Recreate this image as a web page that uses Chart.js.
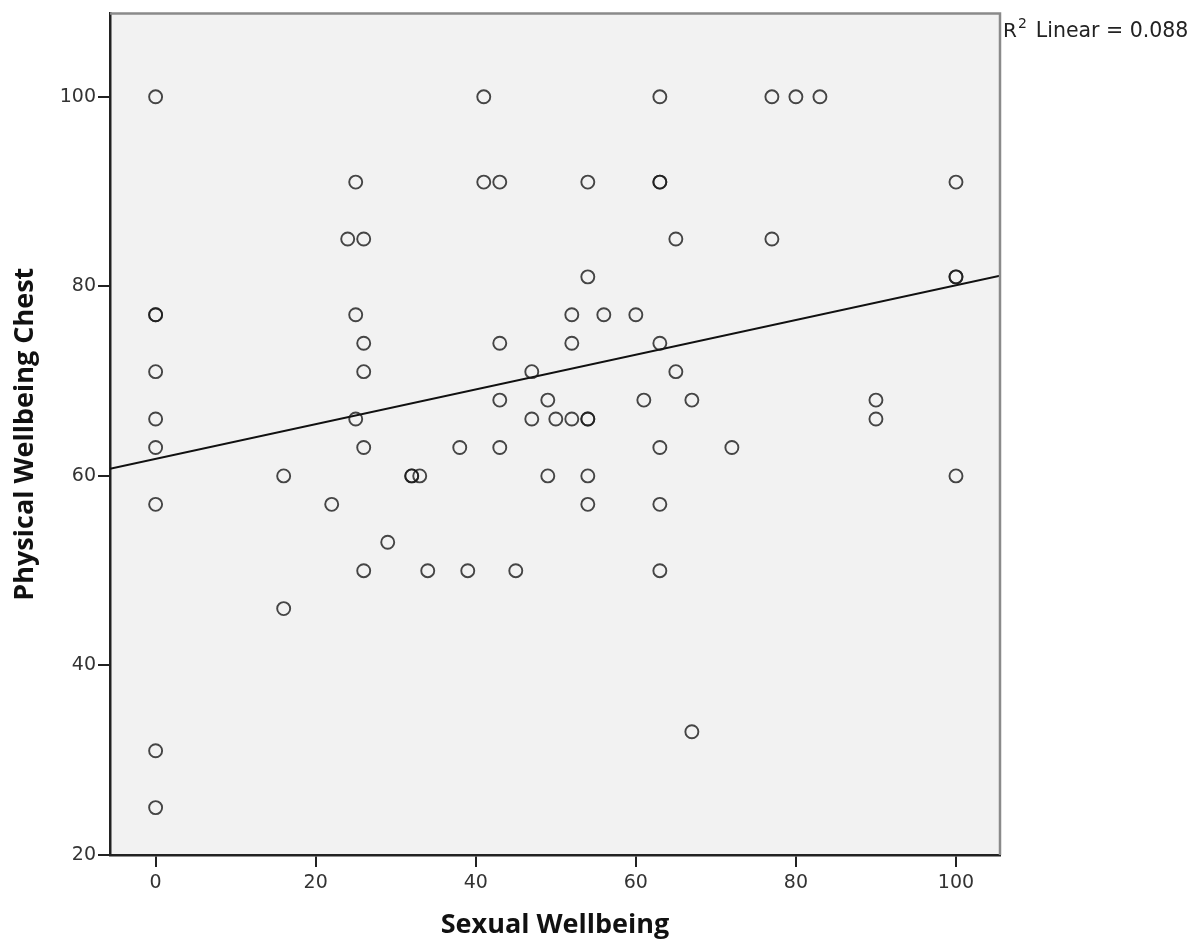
<!DOCTYPE html>
<html>
<head>
<meta charset="utf-8">
<script src="https://cdn.jsdelivr.net/npm/chart.js@4"></script>
<style>
  html, body { margin: 0; padding: 0; background: #fff; }
  #wrap { width: 1203px; height: 947px; }
</style>
</head>
<body>
<div id="wrap"><canvas id="scatter"></canvas></div>
<script>
// values (duplicates are the darker circles)
const sexualWellbeing = [
  0, 0, 0, 0, 0, 0, 0, 0, 0,
  16, 16, 22, 24, 25, 25, 25,
  26, 26, 26, 26, 26, 29, 32, 32, 33, 34, 38, 39,
  41, 41, 43, 43, 43, 43, 45, 47, 47, 49, 49, 50,
  52, 52, 52, 54, 54, 54, 54, 54, 54, 56, 60, 61,
  63, 63, 63, 63, 63, 63, 63, 65, 65, 67, 67, 72,
  77, 77, 80, 83, 90, 90, 100, 100, 100, 100
];
const physicalChest = [
  100, 77, 77, 71, 66, 63, 57, 31, 25,
  60, 46, 57, 85, 91, 77, 66,
  85, 74, 71, 63, 50, 53, 60, 60, 60, 50, 63, 50,
  100, 91, 91, 74, 68, 63, 50, 71, 66, 68, 60, 66,
  77, 74, 66, 91, 81, 66, 66, 60, 57, 77, 77, 68,
  100, 91, 91, 74, 63, 57, 50, 85, 71, 68, 33, 63,
  100, 85, 100, 100, 68, 66, 91, 81, 81, 60
];
const xTicks = [0, 20, 40, 60, 80, 100];
const yTicks = [20, 40, 60, 80, 100];
const xMin = -5.7, xMax = 105.5;
const yMin = 20, yMax = 108.8;
const r2Label = '0.088';

const points = sexualWellbeing.map((x, i) => ({ x: x, y: physicalChest[i] }));

// least squares fit line
function fitLine(xs, ys) {
  const n = xs.length;
  const mx = xs.reduce((a, b) => a + b, 0) / n;
  const my = ys.reduce((a, b) => a + b, 0) / n;
  let sxy = 0, sxx = 0;
  for (let i = 0; i < n; i++) {
    sxy += (xs[i] - mx) * (ys[i] - my);
    sxx += (xs[i] - mx) * (xs[i] - mx);
  }
  const b = sxy / sxx;
  return { a: my - b * mx, b: b };
}
const fit = fitLine(sexualWellbeing, physicalChest);
const fitPoints = [xMin, xMax].map(x => ({ x: x, y: fit.a + fit.b * x }));

const framePlugin = {
  id: 'frame',
  beforeDraw(chart) {
    const { ctx, chartArea: a } = chart;
    ctx.save();
    ctx.fillStyle = '#f2f2f2';
    ctx.fillRect(a.left, a.top, a.right - a.left, a.bottom - a.top);
    ctx.restore();
  },
  afterDraw(chart) {
    const { ctx, chartArea: a } = chart;
    ctx.save();
    ctx.strokeStyle = '#8a8a8a';
    ctx.lineWidth = 2.5;
    ctx.beginPath();
    ctx.moveTo(a.left, a.top);
    ctx.lineTo(a.right, a.top);
    ctx.lineTo(a.right, a.bottom);
    ctx.stroke();
    // R² label
    ctx.fillStyle = '#222';
    ctx.textBaseline = 'alphabetic';
    ctx.font = '20px "DejaVu Sans"';
    let x = a.right + 3;
    const y = a.top + 24;
    ctx.fillText('R', x, y);
    x += ctx.measureText('R').width + 1;
    ctx.font = '14px "DejaVu Sans"';
    ctx.fillText('2', x, y - 9);
    x += ctx.measureText('2').width + 9;
    ctx.font = '20.5px "DejaVu Sans"';
    ctx.fillText('Linear = ' + r2Label, x, y);
    ctx.restore();
  }
};

const tickFont = { family: 'DejaVu Sans', size: 19 };
const titleFont = { family: 'Open Sans', size: 27, weight: 'bold' };

new Chart(document.getElementById('scatter'), {
  type: 'scatter',
  data: {
    datasets: [{
      data: points,
      pointStyle: 'circle',
      pointRadius: 6.5,
      pointHoverRadius: 6.5,
      pointBorderWidth: 1.9,
      pointBorderColor: 'rgba(25,25,25,0.8)',
      pointBackgroundColor: 'rgba(0,0,0,0)'
    }, {
      type: 'line',
      data: fitPoints,
      borderColor: '#111',
      borderWidth: 2,
      pointRadius: 0,
      fill: false
    }]
  },
  options: {
    responsive: true,
    maintainAspectRatio: false,
    animation: false,
    layout: { padding: { left: 0, right: 203, top: 11, bottom: 0 } },
    plugins: { legend: { display: false }, tooltip: { enabled: false } },
    scales: {
      x: {
        type: 'linear',
        min: xMin,
        max: xMax,
        afterBuildTicks: s => { s.ticks = xTicks.map(v => ({ value: v })); },
        afterFit: s => { s.height = 92; },
        border: { color: '#222', width: 2.5 },
        grid: { drawOnChartArea: false, drawTicks: true, tickLength: 12, color: '#222', lineWidth: 2 },
        ticks: { font: tickFont, color: '#333', padding: 5 },
        title: { display: true, text: 'Sexual Wellbeing', font: titleFont, color: '#111', padding: { top: 0, bottom: 5 } }
      },
      y: {
        type: 'linear',
        min: yMin,
        max: yMax,
        afterBuildTicks: s => { s.ticks = yTicks.map(v => ({ value: v })); },
        afterFit: s => { s.width = 110; },
        border: { color: '#222', width: 2.5 },
        grid: { drawOnChartArea: false, drawTicks: true, tickLength: 12, color: '#222', lineWidth: 2 },
        ticks: { font: tickFont, color: '#333', padding: 2 },
        title: { display: true, text: 'Physical Wellbeing Chest', font: titleFont, color: '#111', padding: { top: 9, bottom: 0 } }
      }
    }
  },
  plugins: [framePlugin]
});
</script>
</body>
</html>
